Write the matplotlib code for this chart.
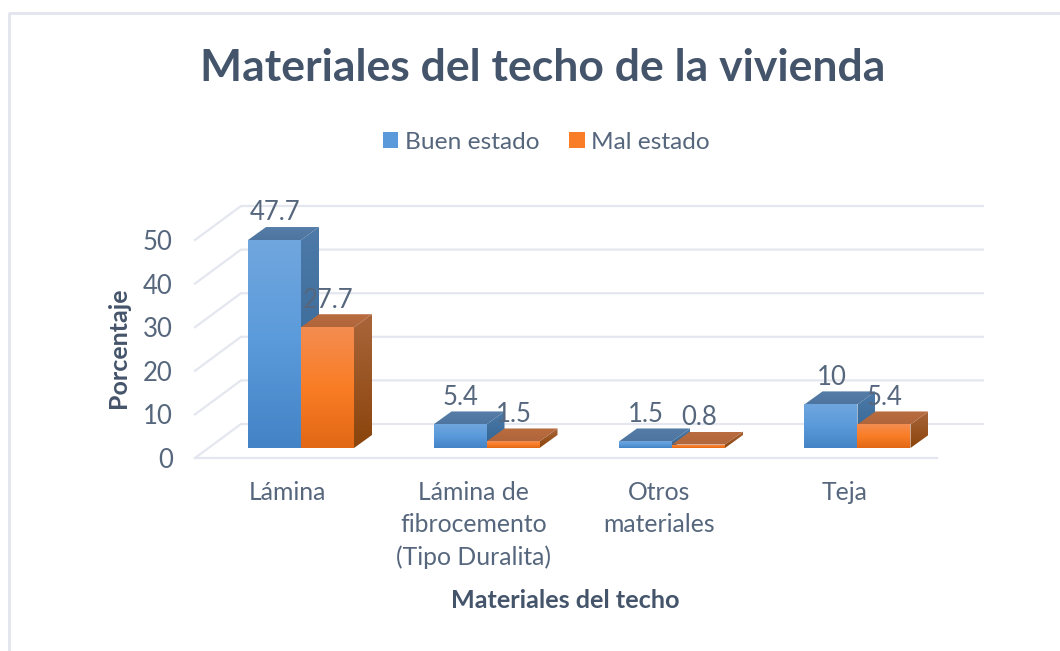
import numpy as np
import matplotlib
matplotlib.use('Agg')
import matplotlib.pyplot as plt
from matplotlib.colors import LinearSegmentedColormap
from matplotlib.patches import Patch, Polygon
from matplotlib.lines import Line2D

categories = ['Lámina', 'Lámina de\nfibrocemento\n(Tipo Duralita)', 'Otros\nmateriales', 'Teja']
buen_estado = [47.7, 5.4, 1.5, 10]
mal_estado = [27.7, 1.5, 0.8, 5.4]
buen_labels = ['47.7', '5.4', '1.5', '10']
mal_labels = ['27.7', '1.5', '0.8', '5.4']
yticks = [0, 10, 20, 30, 40, 50]

W, H = 1060, 651
plt.rcParams['font.family'] = ['Lato', 'DejaVu Sans']
TEXT = '#44546A'
SOFT = '#56677D'
GRID = '#E4E7EF'

fig = plt.figure(figsize=(W / 100, H / 100), dpi=100)

# axes box in pixels: floor front-left to back wall top-right
left, right, bottom, top = 195, 983, 458, 205
ax = fig.add_axes([left / W, 1 - bottom / H, (right - left) / W, (bottom - top) / H])
ax.patch.set_visible(False)

px_per_cat = 185.5
px_per_val = 4.36
xmin, xmax = -0.5, -0.5 + (right - left) / px_per_cat
ymax = (bottom - top) / px_per_val


def dx(px):
    return px / px_per_cat


def dy(px):
    return px / px_per_val


# walls and floor
wall_x, wall_y = dx(46), dy(34)
for t in yticks:
    ax.plot([xmin, xmin + wall_x, xmax], [t, t + wall_y, t + wall_y], color=GRID, lw=1.6,
            clip_on=False, zorder=1, solid_joinstyle='miter')
ax.plot([xmin, xmax - wall_x], [0, 0], color=GRID, lw=1.6, clip_on=False, zorder=1)

# bar geometry
bar_w = dx(53)
off_x, off_y = dx(13), dy(10)
dep_x, dep_y = dx(18), dy(13)

blue = dict(front=['#70A6DE', '#5A9ADB', '#4484C6'], side=['#4D7AA8', '#2F6291'], top=['#557DA8', '#4D759F'])
orange = dict(front=['#F48C50', '#FA7D25', '#E26816'], side=['#A9653A', '#8A440C'], top=['#B86C40', '#B1653A'])


def shade(poly, colors, ext, z):
    cmap = LinearSegmentedColormap.from_list('g', colors)
    im = ax.imshow(np.linspace(0, 1, 64).reshape(-1, 1), cmap=cmap, extent=ext, aspect='auto',
                   origin='upper', zorder=z, clip_on=True)
    patch = Polygon(poly, closed=True, transform=ax.transData, fc='none', ec='none')
    ax.add_patch(patch)
    im.set_clip_path(patch)


def bar3d(x0, v, pal, z):
    base = off_y
    x1 = x0 + bar_w
    h = base + v
    shade([(x1, base), (x1 + dep_x, base + dep_y), (x1 + dep_x, h + dep_y), (x1, h)], pal['side'],
          (x1, x1 + dep_x, base, h + dep_y), z)
    shade([(x0, h), (x1, h), (x1 + dep_x, h + dep_y), (x0 + dep_x, h + dep_y)], pal['top'],
          (x0, x1 + dep_x, h, h + dep_y), z)
    shade([(x0, base), (x1, base), (x1, h), (x0, h)], pal['front'], (x0, x1, base, h), z + 0.1)


for i in range(len(categories)):
    start = i - 0.5 + dx(53)
    bar3d(start, buen_estado[i], blue, 3 + i)
    bar3d(start + bar_w, mal_estado[i], orange, 3.5 + i)
    for j, (vals, labs) in enumerate(((buen_estado, buen_labels), (mal_estado, mal_labels))):
        ax.annotate(labs[i], (start + bar_w * (j + 0.5), off_y + vals[i]), xytext=(0.5, 19.5),
                    textcoords='offset points', ha='center', va='center', fontsize=18.5,
                    color=SOFT, zorder=20, annotation_clip=False)

ax.set_xlim(xmin, xmax)
ax.set_ylim(0, ymax)
ax.set_xticks(range(len(categories)))
ax.set_xticklabels(categories, fontsize=17.8, color=SOFT, linespacing=1.48)
ax.set_yticks(yticks)
ax.set_yticklabels([str(t) for t in yticks], fontsize=18.5, color=SOFT)
ax.tick_params(axis='x', length=0, pad=16.5)
ax.tick_params(axis='y', length=0, pad=16)
for s in ax.spines.values():
    s.set_visible(False)

ax.set_xlabel('Materiales del techo', fontsize=18.2, fontweight='bold', color=TEXT)
ax.xaxis.set_label_coords((565 - left) / (right - left), (bottom - 601) / (bottom - top))
ax.xaxis.label.set_verticalalignment('center')
ax.set_ylabel('Porcentaje', fontsize=18, fontweight='bold', color=TEXT)
ax.yaxis.set_label_coords((119 - left) / (right - left), (bottom - 348) / (bottom - top))
ax.yaxis.label.set_verticalalignment('center')

fig.text(543 / W, 1 - 68 / H, 'Materiales del techo de la vivienda', fontsize=32, fontweight='bold',
         color=TEXT, ha='center', va='center')

handles = [Patch(fc='#5A9ADB', label='Buen estado'), Patch(fc='#F97C26', label='Mal estado')]
fig.legend(handles=handles, loc='center', bbox_to_anchor=(546.5 / W, 1 - 142 / H), ncol=2, frameon=False,
           fontsize=17.6, labelcolor=SOFT, handlelength=0.62, handleheight=0.62, handletextpad=0.28,
           columnspacing=1.22)

# chart frame, only top and left edges are in the crop
fig.add_artist(Line2D([8.5 / W, 8.5 / W, 1], [0, 1 - 12.5 / H, 1 - 12.5 / H], color='#E2E5EC', lw=2))

fig.savefig('out.png', dpi=100)
